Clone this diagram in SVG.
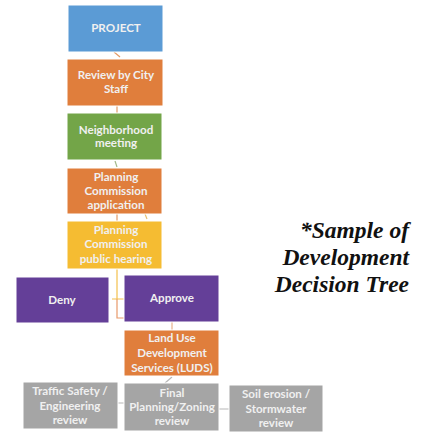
<svg xmlns="http://www.w3.org/2000/svg" width="427" height="432" viewBox="0 0 427 432">
<style>
.n{stroke:#ffffff;stroke-width:1}
.t{font-family:Lato,"Liberation Sans",Arial,sans-serif;font-size:11.6px;font-weight:bold;fill:#f0f0f0;text-anchor:middle}
.c{fill:none;stroke-width:1.2}
.ttl{font-family:"Liberation Serif","Times New Roman",serif;font-size:23.5px;font-weight:bold;font-style:italic;fill:#111;text-anchor:end}
</style>
<rect width="427" height="432" fill="#ffffff"/>
<g id="connectors">
<path class="c" stroke="#e39a66" d="M114 52 L120 57"/>
<path class="c" stroke="#e39a66" d="M117 106 V113"/>
<path class="c" stroke="#a3b98a" d="M115 161 L117 167"/>
<path class="c" stroke="#e39a66" d="M117 214 V221"/>
<path class="c" stroke="#e8c070" d="M145 214 L147 219"/>
<path class="c" stroke="#f3c04c" d="M117 269 V299 M112 299 H124"/>
<path class="c" stroke="#e8996a" d="M117 299 V318 H124"/>
<path class="c" stroke="#e8b28a" d="M172 322 V330"/>
<path class="c" stroke="#b8b8b8" d="M165 383 L172 377 M118 403 H124 M219 409 H229"/>
</g>
<g id="project"><rect class="n" x="68" y="5" width="95" height="47" fill="#5b9bd5"/><text class="t" x="116" y="32">PROJECT</text></g>
<g id="review"><rect class="n" x="67" y="59" width="96" height="47" fill="#e07e3c"/><text class="t" x="116" y="79">Review by City</text><text class="t" x="116" y="93">Staff</text></g>
<g id="neighborhood"><rect class="n" x="67" y="113" width="95" height="47" fill="#73a548"/><text class="t" x="116" y="134">Neighborhood</text><text class="t" x="116" y="147">meeting</text></g>
<g id="application"><rect class="n" x="67" y="168" width="95" height="46" fill="#e07e3c"/><text class="t" x="116" y="181">Planning</text><text class="t" x="116" y="195">Commission</text><text class="t" x="116" y="209">application</text></g>
<g id="hearing"><rect class="n" x="67" y="221" width="95" height="48" fill="#f5bc32"/><text class="t" x="116" y="234">Planning</text><text class="t" x="116" y="248">Commission</text><text class="t" x="116" y="263">public hearing</text></g>
<g id="deny"><rect class="n" x="16" y="277" width="93" height="46" fill="#643f98"/><text class="t" x="62" y="304">Deny</text></g>
<g id="approve"><rect class="n" x="124" y="275" width="95" height="47" fill="#643f98"/><text class="t" x="172" y="302">Approve</text></g>
<g id="luds"><rect class="n" x="124" y="330" width="95" height="46" fill="#e07e3c"/><text class="t" x="172" y="342">Land Use</text><text class="t" x="172" y="357">Development</text><text class="t" x="172" y="372">Services (LUDS)</text></g>
<g id="traffic"><rect class="n" x="23" y="382" width="95" height="47" fill="#a5a5a5"/><text class="t" x="70" y="395">Traffic Safety /</text><text class="t" x="70" y="410">Engineering</text><text class="t" x="70" y="424">review</text></g>
<g id="final"><rect class="n" x="124" y="383" width="95" height="48" fill="#a5a5a5"/><text class="t" x="172" y="397">Final</text><text class="t" x="172" y="411">Planning/Zoning</text><text class="t" x="172" y="425">review</text></g>
<g id="soil"><rect class="n" x="229" y="385" width="94" height="47" fill="#a5a5a5"/><text class="t" x="276" y="398">Soil erosion /</text><text class="t" x="276" y="413">Stormwater</text><text class="t" x="276" y="427">review</text></g>
<g id="title"><text class="ttl" x="409" y="238">*Sample of</text><text class="ttl" x="409" y="265">Development</text><text class="ttl" x="409" y="292">Decision Tree</text></g>
</svg>
